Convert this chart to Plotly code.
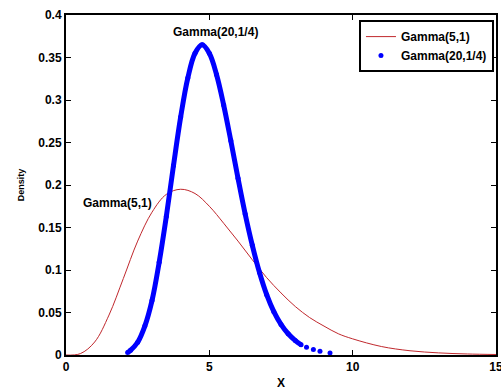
import plotly.graph_objects as go

# Gamma(5,1) density curve
red_x = [0, 0.5, 1, 1.5, 2, 2.5, 3, 3.5, 4, 4.5, 5, 5.5, 6, 6.5, 7, 7.5, 8, 8.5, 9, 9.5, 10, 11, 12, 13, 14, 15]
red_y = [0, 0.0016, 0.0153, 0.047, 0.090, 0.134, 0.168, 0.189, 0.195, 0.190, 0.175, 0.155, 0.134, 0.112,
         0.091, 0.073, 0.057, 0.044, 0.034, 0.025, 0.019, 0.010, 0.005, 0.0025, 0.0012, 0.0006]

# Gamma(20,1/4) density points (dense band)
blue_x = [2.15, 2.25, 2.5, 2.75, 3, 3.25, 3.5, 3.75, 4, 4.25, 4.5, 4.75, 5, 5.25, 5.5, 5.75, 6, 6.25,
          6.5, 6.75, 7, 7.25, 7.5, 7.75, 8, 8.2]
blue_y = [0.003, 0.0055, 0.015, 0.034, 0.064, 0.109, 0.163, 0.223, 0.280, 0.326, 0.355, 0.365, 0.355,
          0.330, 0.294, 0.252, 0.208, 0.166, 0.129, 0.097, 0.071, 0.051, 0.036, 0.025, 0.017, 0.012]
# sparse tail points
tail_x = [8.39, 8.63, 8.86, 9.21]
tail_y = [0.009, 0.0065, 0.0045, 0.0025]

x_ticks = [0, 5, 10, 15]
y_ticks = [0, 0.05, 0.1, 0.15, 0.2, 0.25, 0.3, 0.35, 0.4]
y_tick_text = ["0", "0.05", "0.1", "0.15", "0.2", "0.25", "0.3", "0.35", "0.4"]

FONT = "Liberation Sans, Arial, sans-serif"
RED = "#c0282d"
BLUE = "#0000ff"

fig = go.Figure()
fig.add_trace(go.Scatter(x=red_x, y=red_y, mode="lines", line=dict(color=RED, width=1, shape="spline"),
                         name="Gamma(5,1)"))
fig.add_trace(go.Scatter(x=blue_x, y=blue_y, mode="lines", line=dict(color=BLUE, width=5, shape="spline"),
                         showlegend=False, hoverinfo="skip"))
fig.add_trace(go.Scatter(x=blue_x + tail_x, y=blue_y + tail_y, mode="markers",
                         marker=dict(color=BLUE, size=5), name="Gamma(20,1/4)"))

tickfont = dict(family=FONT, size=12, color="black", weight="bold")
axis_common = dict(showline=True, linecolor="black", linewidth=2, mirror="ticks", ticks="inside",
                   ticklen=5, tickwidth=1, tickcolor="black", showgrid=False, zeroline=False,
                   tickfont=tickfont, ticklabeloverflow="allow")

fig.update_layout(
    width=501, height=390,
    margin=dict(l=66, r=5, t=15, b=35),
    paper_bgcolor="white", plot_bgcolor="white",
    font=dict(family=FONT, size=12, color="black"),
    xaxis=dict(range=[0, 15], tickvals=x_ticks, ticktext=[str(v) for v in x_ticks],
               title=dict(text="X", font=dict(family=FONT, size=12, weight="bold"), standoff=6),
               automargin=False, **axis_common),
    yaxis=dict(range=[0, 0.4], tickvals=y_ticks, ticktext=y_tick_text,
               title=dict(text="Density", font=dict(family=FONT, size=9, weight="bold"), standoff=12),
               automargin=False, **axis_common),
    legend=dict(x=0.9953, y=0.985, xanchor="right", yanchor="top", bgcolor="white",
                bordercolor="black", borderwidth=2, font=dict(family=FONT, size=12, weight="bold"),
                tracegroupgap=0, itemsizing="trace"),
    showlegend=True,
    annotations=[
        dict(x=5.2, y=0.380, text="Gamma(20,1/4)", showarrow=False,
             font=dict(family=FONT, size=12, weight="bold")),
        dict(x=1.8, y=0.179, text="Gamma(5,1)", showarrow=False,
             font=dict(family=FONT, size=12, weight="bold")),
    ],
)

fig.write_html("out.html")
